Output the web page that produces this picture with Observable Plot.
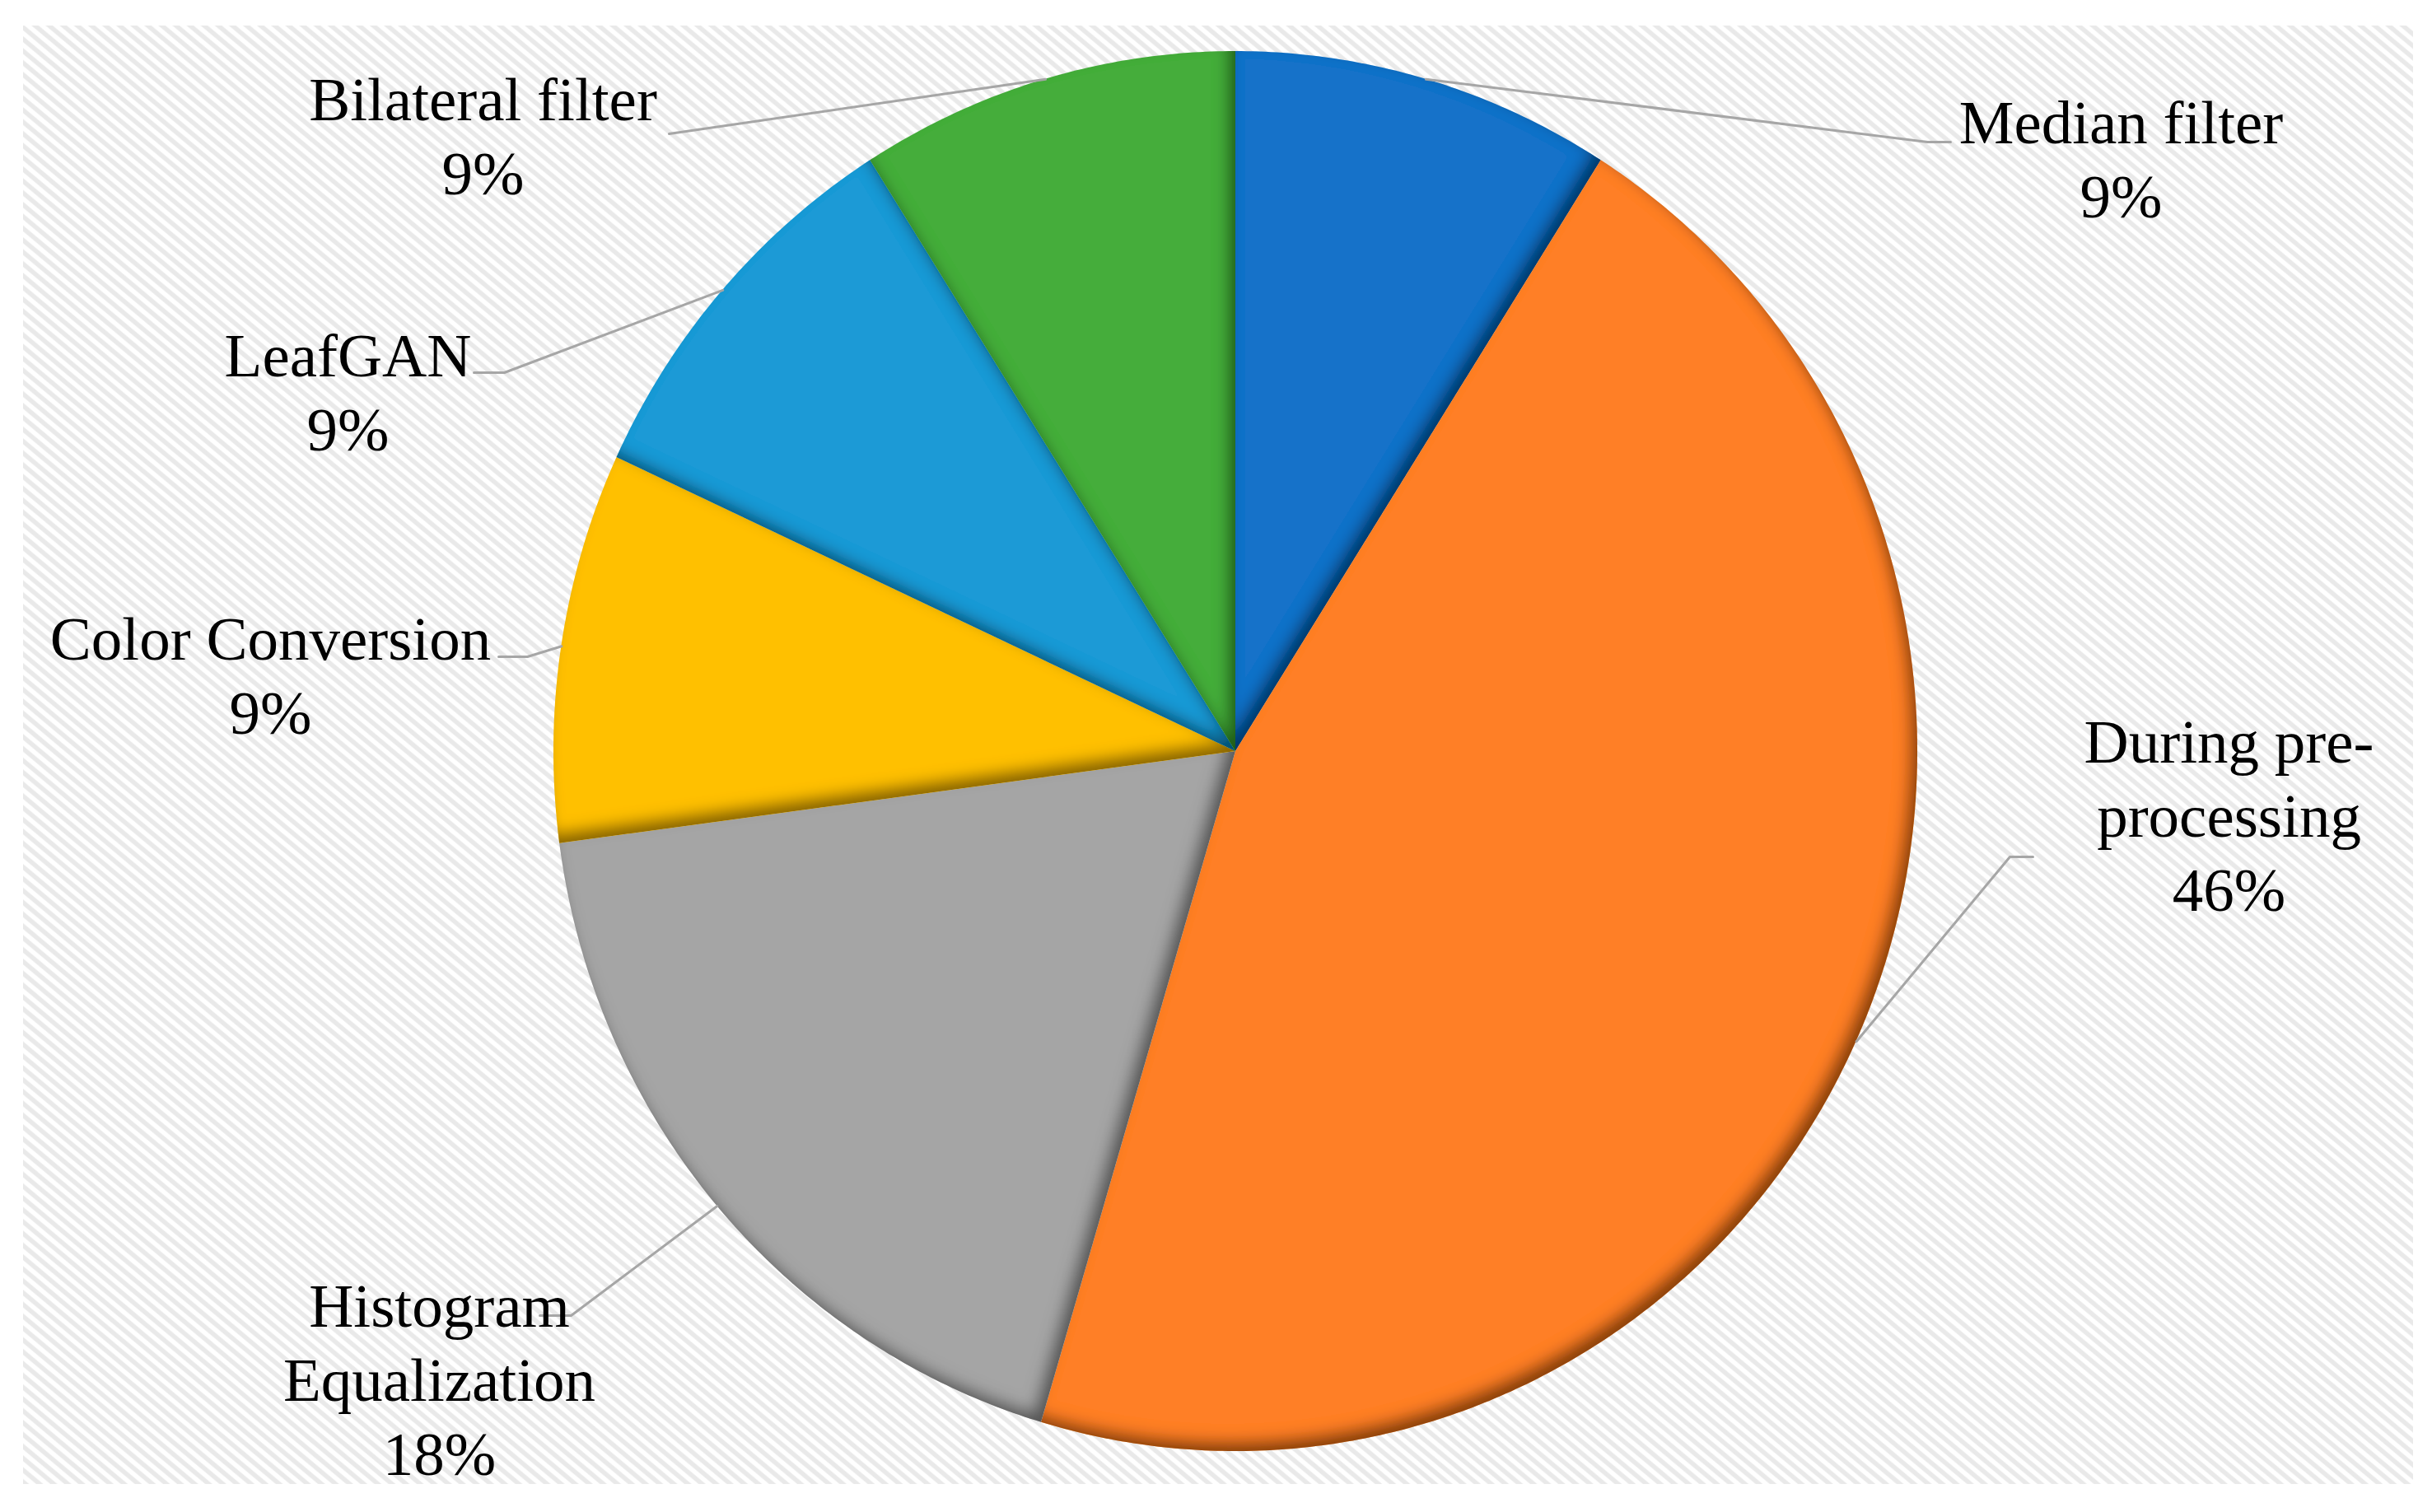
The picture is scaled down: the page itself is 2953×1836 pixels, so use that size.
<!DOCTYPE html>
<html><head><meta charset="utf-8">
<script src="https://cdn.jsdelivr.net/npm/d3@7"></script>
<script src="https://cdn.jsdelivr.net/npm/@observablehq/plot@0.6"></script>
<style>
html,body{margin:0;padding:0;background:#fff;}
#wrap{position:relative;width:2953px;height:1836px;overflow:hidden;}
#bg{position:absolute;left:28px;top:31px;width:2902px;height:1771px;
  background:repeating-linear-gradient(40deg,#e9e9e9 0px,#e9e9e9 4px,#ffffff 5.5px,#ffffff 9.5px,#e9e9e9 11px);}
#chart{position:absolute;left:0;top:0;}
</style></head><body>
<div id="wrap"><div id="bg"></div><div id="chart"></div></div>
<script>
// ---- data ----
const categories = ["Median filter", "During pre-processing", "Histogram Equalization", "Color Conversion", "LeafGAN", "Bilateral filter"];
const values = [9.0, 45.6, 18.3, 9.0, 9.1, 9.0];
const colors = ["#1872C9", "#FF7F27", "#A5A5A5", "#FFC000", "#1A9AD6", "#44AD3B"];
const labelLines = [["Median filter"], ["During pre-", "processing"], ["Histogram", "Equalization"], ["Color Conversion"], ["LeafGAN"], ["Bilateral filter"]];

// ---- layout (pixels of the picture) ----
const W = 2953, H = 1836, CX = 1500, CY = 912, RX = 828, RY = 850;
const labelLayout = [
  {tx: 2575, ty: 190, ex: 2368, ey: 172, bx: 2340, by: 172},
  {tx: 2706, ty: 987, ex: 2468, ey: 1040, bx: 2440, by: 1040},
  {tx: 533, ty: 1672, ex: 655, ey: 1597, bx: 693, by: 1597},
  {tx: 328, ty: 817, ex: 605, ey: 797, bx: 640, by: 797},
  {tx: 422, ty: 473, ex: 575, ey: 452, bx: 612, by: 452},
  {tx: 586, ty: 162, ex: 812, ey: 162, bx: 812, by: 162}
];
const px2x = p => (p - CX) / RX;
const py2y = p => (CY - p) / RY;

// ---- slice geometry from values ----
const total = d3.sum(values);
const arcs = d3.pie().sort(null).value(d => d.value)(categories.map((c, i) => ({cat: c, value: values[i]})));
const sliceRows = [];
arcs.forEach(a => {
  const cat = a.data.cat;
  const n = Math.max(2, Math.ceil((a.endAngle - a.startAngle) / (Math.PI / 360)));
  for (let k = 0; k <= n; k++) {
    const t = a.startAngle + (a.endAngle - a.startAngle) * k / n;
    sliceRows.push({cat, x0: 0, y0: 0, x: Math.sin(t), y: Math.cos(t)});
  }
});

const leaderRows = [];
const textRows = [];
arcs.forEach((a, i) => {
  const cat = a.data.cat, L = labelLayout[i];
  const m = (a.startAngle + a.endAngle) / 2;
  leaderRows.push({cat, x: Math.sin(m), y: Math.cos(m)});
  leaderRows.push({cat, x: px2x(L.bx), y: py2y(L.by)});
  leaderRows.push({cat, x: px2x(L.ex), y: py2y(L.ey)});
  const pct = Math.round(100 * a.data.value / total) + "%";
  textRows.push({cat, x: px2x(L.tx), y: py2y(L.ty), text: [...labelLines[i], pct].join("\n")});
});

const chart = Plot.plot({
  width: W, height: H, margin: 0,
  style: {background: "transparent", overflow: "visible"},
  x: {domain: [px2x(0), px2x(W)], axis: null},
  y: {domain: [py2y(H), py2y(0)], axis: null},
  color: {domain: categories, range: colors},
  marks: [
    Plot.area(sliceRows, {x1: "x0", y1: "y0", x2: "x", y2: "y", z: "cat", fill: "cat", curve: "linear"}),
    Plot.line(leaderRows, {x: "x", y: "y", z: "cat", stroke: "#a6a6a6", strokeWidth: 3}),
    Plot.text(textRows, {x: "x", y: "y", text: "text", fontSize: 75, lineHeight: 1.2,
      fontFamily: "'Liberation Serif', 'Times New Roman', serif", textAnchor: "middle", lineAnchor: "middle", fill: "#000"})
  ]
});

// inner shadow filter for the slice shading
const ns = "http://www.w3.org/2000/svg";
const defs = document.createElementNS(ns, "defs");
defs.innerHTML = `<filter id="innerShadow" x="-10%" y="-10%" width="120%" height="120%">
  <feFlood flood-color="#000" flood-opacity="0.75" result="flood"/>
  <feComposite in="flood" in2="SourceAlpha" operator="out" result="outside"/>
  <feOffset in="outside" dx="-9" dy="-12" result="off"/>
  <feGaussianBlur in="off" stdDeviation="9" result="blur"/>
  <feComposite in="blur" in2="SourceAlpha" operator="in" result="shadow"/>
  <feMerge><feMergeNode in="SourceGraphic"/><feMergeNode in="shadow"/></feMerge>
</filter>`;
chart.insertBefore(defs, chart.firstChild);
const areaG = chart.querySelector('g[aria-label="area"]');
if (areaG) areaG.querySelectorAll("path").forEach(p => p.setAttribute("filter", "url(#innerShadow)"));

document.getElementById("chart").appendChild(chart);
</script>
</body></html>
